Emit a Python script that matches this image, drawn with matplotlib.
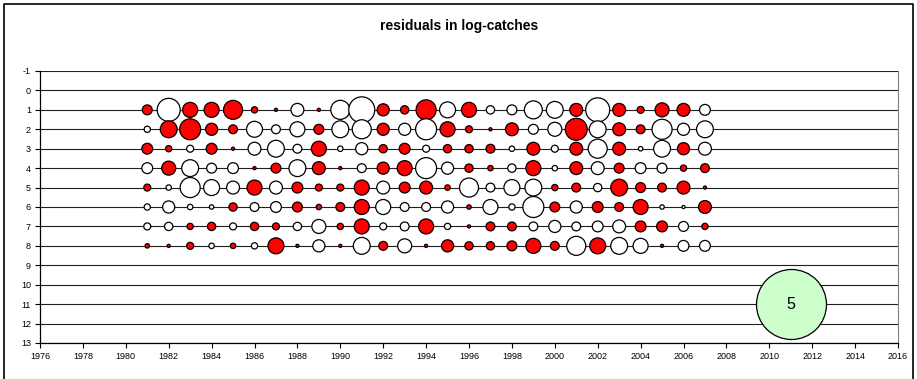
import matplotlib
matplotlib.use("Agg")
import matplotlib.pyplot as plt
from matplotlib.lines import Line2D
import numpy as np

plt.rcParams['font.family'] = ['Liberation Sans', 'DejaVu Sans']

years = list(range(1981, 2008))
ages = [1, 2, 3, 4, 5, 6, 7, 8]

# residuals in log-catches (positive = red, negative = white)
res_age1 = [0.10, -0.54, 0.23, 0.23, 0.37, 0.04, 0.01, -0.17, 0.01, -0.37, -0.69, 0.15, 0.07, 0.41,
            -0.26, 0.23, -0.07, -0.10, -0.33, -0.29, 0.17, -0.59, 0.17, 0.05, 0.20, 0.17, -0.12]
res_age2 = [-0.04, 0.29, 0.45, 0.15, 0.08, -0.26, -0.08, -0.23, 0.10, -0.29, -0.37, 0.15, -0.15, -0.45,
            0.23, 0.05, 0.01, 0.17, -0.10, -0.20, 0.49, -0.29, 0.17, 0.08, -0.41, -0.15, -0.29]
res_age3 = [0.12, 0.04, -0.05, 0.12, 0.01, -0.17, -0.29, -0.08, 0.23, -0.03, -0.15, 0.07, 0.12, -0.05,
            0.07, 0.07, 0.08, -0.03, 0.17, -0.05, 0.17, -0.37, 0.17, -0.02, -0.29, 0.15, -0.17]
res_age4 = [-0.12, 0.20, -0.29, -0.10, -0.12, 0.01, 0.10, -0.29, 0.17, 0.01, -0.08, 0.15, 0.23, -0.45,
            -0.15, 0.07, 0.03, -0.07, 0.23, -0.03, 0.17, -0.17, 0.10, -0.12, -0.10, 0.04, 0.08]
res_age5 = [0.05, -0.03, -0.41, -0.26, -0.17, 0.23, -0.17, 0.12, 0.05, 0.05, 0.23, -0.17, 0.12, 0.17,
            0.03, -0.37, -0.08, -0.26, -0.29, 0.04, 0.08, -0.07, 0.29, 0.10, 0.08, 0.17, 0.01]
res_age6 = [-0.04, -0.15, -0.03, -0.02, 0.07, -0.08, -0.12, 0.10, 0.03, 0.08, 0.23, -0.23, -0.08, -0.08,
            -0.15, 0.02, -0.23, -0.04, -0.45, 0.10, -0.15, 0.12, 0.08, 0.23, -0.02, -0.01, 0.17]
res_age7 = [-0.05, -0.07, 0.04, 0.07, -0.05, 0.07, 0.05, -0.07, -0.20, 0.04, 0.23, -0.05, -0.08, 0.23,
            -0.04, 0.01, 0.08, 0.08, -0.08, -0.15, -0.08, -0.12, -0.17, 0.12, 0.12, -0.10, 0.04]
res_age8 = [0.02, 0.01, 0.05, -0.03, 0.03, -0.04, 0.26, 0.01, -0.15, 0.01, -0.29, 0.08, -0.20, 0.01,
            0.15, 0.07, 0.07, 0.10, 0.23, 0.08, -0.37, 0.26, -0.29, -0.23, 0.01, -0.12, -0.12]

legend_value = 5
legend_year = 2011
legend_age = 11

x_ticks = list(range(1976, 2017, 2))
y_ticks = list(range(-1, 14))

residuals = [res_age1, res_age2, res_age3, res_age4, res_age5, res_age6, res_age7, res_age8]

W, H, DPI = 917, 379, 100
fig = plt.figure(figsize=(W / DPI, H / DPI), dpi=DPI)
ax = fig.add_axes([40 / W, 1 - 343 / H, (898 - 40) / W, (343 - 71) / H])

# bubble scaling: value 5 -> 70 px diameter
def size_pts2(v):
    d_px = 70.0 * np.sqrt(np.abs(v) / legend_value)
    d_pt = d_px * 72.0 / DPI
    return d_pt ** 2

for yv in y_ticks:
    ax.axhline(yv, color='#202020', lw=0.8, zorder=1)

for age, res in zip(ages, residuals):
    r = np.array(res)
    colors = ['#FF0000' if v > 0 else '#FFFFFF' for v in r]
    ax.scatter(years, [age] * len(years), s=size_pts2(r), c=colors,
               edgecolors='black', linewidths=0.9, zorder=3)

ax.scatter([legend_year], [legend_age], s=size_pts2(legend_value), c='#CCFFCC',
           edgecolors='black', linewidths=0.9, zorder=3)
ax.text(legend_year, legend_age, str(legend_value), ha='center', va='center',
        fontsize=11.5, zorder=4)

ax.set_xlim(1976, 2016)
ax.set_ylim(13, -1)
ax.set_xticks(x_ticks)
ax.set_yticks(y_ticks)
ax.set_xticklabels([str(v) for v in x_ticks])
ax.set_yticklabels([str(v) for v in y_ticks])
ax.tick_params(axis='both', labelsize=6.5, length=3.5, width=0.8, direction='out', pad=3)

for side in ['left', 'bottom']:
    ax.spines[side].set_color('black')
    ax.spines[side].set_linewidth(0.9)
ax.spines['top'].set_visible(False)
ax.spines['right'].set_color('#808080')
ax.spines['right'].set_linewidth(0.8)

fig.text(459 / W, 1 - 26 / H, 'residuals in log-catches', ha='center', va='center',
         fontsize=10, fontweight='bold')

# outer chart border
x0, x1 = 4 / W, 913 / W
y1 = 1 - 4 / H
fig.add_artist(Line2D([x0, x0, x1, x1], [0, y1, y1, 0], transform=fig.transFigure,
                      color='black', lw=1.2))

fig.savefig('out.png', dpi=DPI)
